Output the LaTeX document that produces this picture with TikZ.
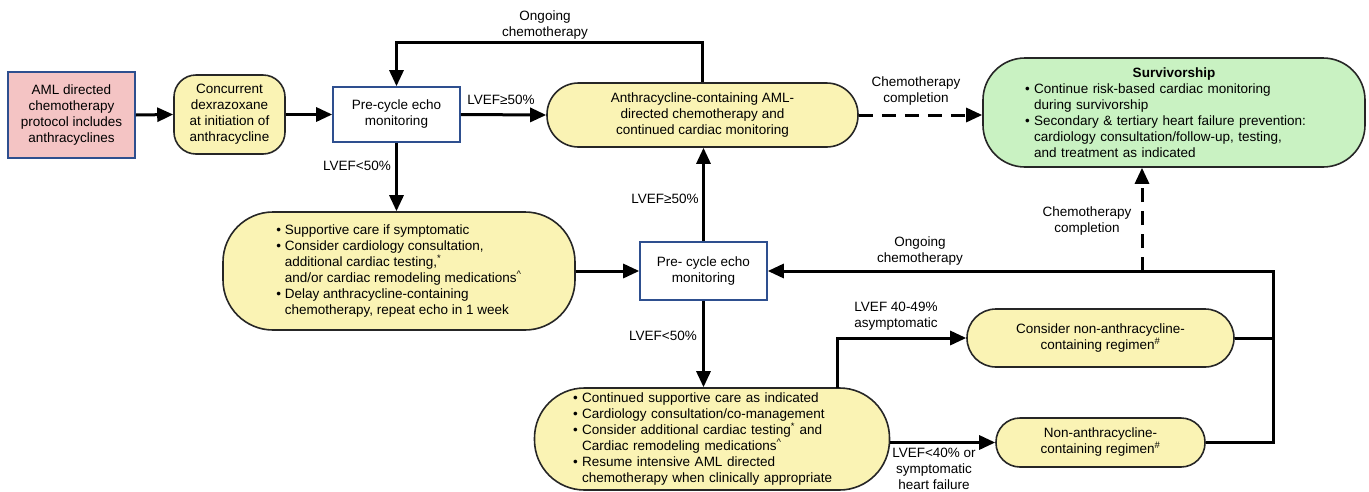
\documentclass[tikz,border=0pt]{standalone}
\usepackage{fontspec}
\setmainfont{Liberation Sans}
\usetikzlibrary{arrows.meta}
\definecolor{pinkf}{HTML}{F4C4C4}
\definecolor{yelf}{HTML}{FAF3B4}
\definecolor{grnf}{HTML}{C9F2C2}
\definecolor{blueb}{HTML}{2E4F8F}
\begin{document}
\begin{tikzpicture}[x=1pt,y=-1pt,
  every node/.style={font=\fontsize{13.5}{16}\selectfont, inner sep=0pt},
  arr/.style={line width=3pt, -{Triangle[length=16pt,width=14pt]}},
  ln/.style={line width=3pt},
  dsh/.style={arr, dash pattern=on 14pt off 9pt},
  echobox/.style={draw=blueb, line width=1.6pt, fill=white, align=center},
  pill/.style={draw=black!85, line width=1.6pt, fill=yelf},
  lbl/.style={align=center}]
\useasboundingbox (0,0) rectangle (1369,491);

\node[draw=blueb, line width=1.6pt, fill=pinkf, minimum width=127pt, minimum height=86pt, align=center] (aml) at (71.5,115) {AML directed\\chemotherapy\\protocol includes\\anthracyclines};
\node[pill, rounded corners=22pt, minimum width=111pt, minimum height=79pt, align=center] (dex) at (229.5,114.5) {Concurrent\\dexrazoxane\\at initiation of\\anthracycline};
\node[echobox, minimum width=127pt, minimum height=55pt] (echo1) at (396.5,114.5) {Pre-cycle echo\\monitoring};
\node[pill, rounded corners=31.5pt, minimum width=311pt, minimum height=64pt, align=center] (anth) at (702.5,115) {Anthracycline-containing AML-\\directed chemotherapy and\\continued cardiac monitoring};
\node[draw=black!85, line width=1.6pt, fill=grnf, rounded corners=42pt, minimum width=382pt, minimum height=109pt, text width=298pt, align=left] (surv) at (1174,112.5) {\makebox[\hsize][c]{\textbf{Survivorship}}\\
\textbullet\ Continue risk-based cardiac monitoring\\
\phantom{\textbullet\ }during survivorship\\
\textbullet\ Secondary \& tertiary heart failure prevention:\\
\phantom{\textbullet\ }cardiology consultation/follow-up, testing,\\
\phantom{\textbullet\ }and treatment as indicated};
\node[pill, rounded corners=50pt, minimum width=352pt, minimum height=118pt, align=left] (supp) at (399,271) {\textbullet\ Supportive care if symptomatic\\
\textbullet\ Consider cardiology consultation,\\
\phantom{\textbullet\ }additional cardiac testing,\textsuperscript{*}\\
\phantom{\textbullet\ }and/or cardiac remodeling medications\textsuperscript{\textasciicircum}\\
\textbullet\ Delay anthracycline-containing\\
\phantom{\textbullet\ }chemotherapy, repeat echo in 1 week};
\node[echobox, minimum width=127pt, minimum height=58pt] (echo2) at (703.5,271) {Pre- cycle echo\\monitoring};
\node[pill, rounded corners=50pt, minimum width=355pt, minimum height=102pt, text width=278pt, align=left] (bot) at (712,439) {\textbullet\ Continued supportive care as indicated\\
\textbullet\ Cardiology consultation/co-management\\
\textbullet\ Consider additional cardiac testing\textsuperscript{*} and\\
\phantom{\textbullet\ }Cardiac remodeling medications\textsuperscript{\textasciicircum}\\
\textbullet\ Resume intensive AML directed\\
\phantom{\textbullet\ }chemotherapy when clinically appropriate};
\node[pill, rounded corners=29pt, minimum width=267pt, minimum height=58pt, align=center] (cons) at (1100.5,338) {Consider non-anthracycline-\\containing regimen\textsuperscript{\#}};
\node[pill, rounded corners=24pt, minimum width=209pt, minimum height=49pt, align=center] (non) at (1100.5,442.5) {Non-anthracycline-\\containing regimen\textsuperscript{\#}};

\coordinate (b1) at (837,388);
\coordinate (rj) at (1273,271);
\coordinate (dj) at (1142,271);

\draw[arr] (aml.east) -- (dex.west);
\draw[arr] (dex.east) -- (echo1.west);
\draw[arr] (echo1.east) -- (anth.west);
\draw[arr] (anth.north) -- ++(0,-40) -| (echo1.north);
\draw[arr] (echo1.south) -- (echo1.south |- supp.north);
\draw[dsh] (anth.east) -- (anth.east -| surv.west);
\draw[arr] (supp.east) -- (echo2.west);
\draw[arr] (echo2.north) -- (echo2.north |- anth.south);
\draw[arr] (echo2.south) -- (echo2.south |- bot.north);
\draw[arr] (b1) |- (cons.west);
\draw[arr] (non.west -| bot.east) -- (non.west);
\draw[ln] (cons.east) -- (cons.east -| rj);
\draw[arr] (non.east) -- (non.east -| rj) -- (rj) -- (echo2.east);
\draw[dsh] (dj) -- (dj |- surv.south);

\node[lbl] (l1) at (501,100) {LVEF≥50\%};
\node[lbl] (l2) at (545,25) {Ongoing\\chemotherapy};
\node[lbl] (l3) at (357,166) {LVEF<50\%};
\node[lbl] (l4) at (916,91) {Chemotherapy\\completion};
\node[lbl] (l5) at (665,199) {LVEF≥50\%};
\node[lbl] (l6) at (920,251) {Ongoing\\chemotherapy};
\node[lbl] (l7) at (663,336) {LVEF<50\%};
\node[lbl] (l8) at (896,316) {LVEF 40-49\%\\asymptomatic};
\node[lbl] (l9) at (934,469) {LVEF<40\% or\\symptomatic\\heart failure};
\node[lbl] (l10) at (1087,221) {Chemotherapy\\completion};
\end{tikzpicture}
\end{document}
